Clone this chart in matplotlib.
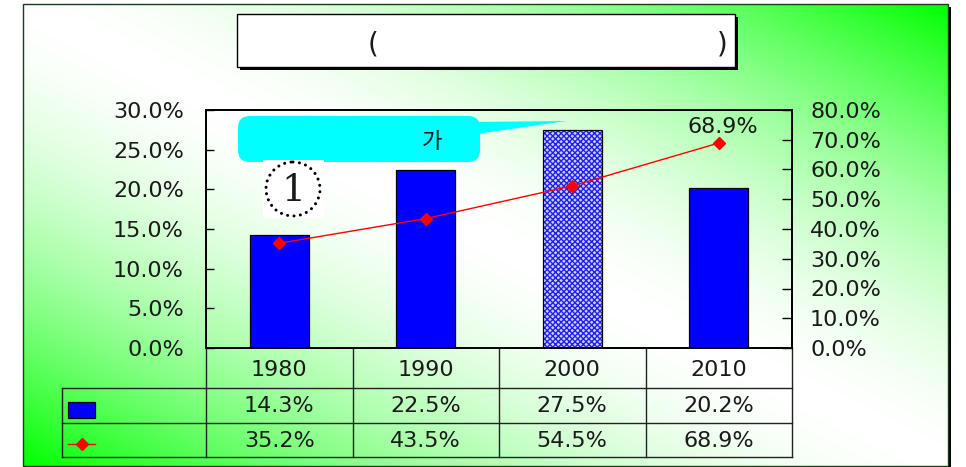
import numpy as np
import matplotlib
matplotlib.use("Agg")
import matplotlib.pyplot as plt
from matplotlib.patches import Rectangle, FancyBboxPatch, Polygon, Circle
from matplotlib import transforms
from matplotlib.ticker import FuncFormatter

# ---------------- data ----------------
years = ["1980", "1990", "2000", "2010"]
bar_values = [14.3, 22.5, 27.5, 20.2]
line_values = [35.2, 43.5, 54.5, 68.9]
left_ticks = [0, 5, 10, 15, 20, 25, 30]
right_ticks = [0, 10, 20, 30, 40, 50, 60, 70, 80]
title_left = "("
title_right = ")"
callout_text = "가"
circle_text = "1"

plt.rcParams['font.family'] = ['DejaVu Sans', 'Noto Sans CJK KR']
plt.rcParams['hatch.linewidth'] = 1.0
FS = 16
TC = '#1a1a1a'

W, H = 966, 467
fig = plt.figure(figsize=(W / 100, H / 100), dpi=100)
fig.patch.set_facecolor("white")

# ---------------- background (pixel coordinates) ----------------
bg = fig.add_axes([0, 0, 1, 1])
bg.set_zorder(0)
bg.axis('off')
FX0, FY0, FX1, FY1 = 23, 4, 948, 466
nx, ny = FX1 - FX0, FY1 - FY0
u = np.linspace(0, 1, nx)[None, :]
v = np.linspace(0, 1, ny)[:, None]
t = np.abs(u - v) ** 1.7
white = np.array([1.0, 1.0, 1.0])
green = np.array([0.0, 1.0, 0.0])
img = white * (1 - t[..., None]) + green * t[..., None]
bg.add_patch(Rectangle((FX0 + 3, FY0 + 3), nx, ny, fc='black', ec='none', zorder=0))
bg.imshow(img, extent=[FX0, FX1, FY1, FY0], aspect='auto', interpolation='bilinear', zorder=1)
bg.add_patch(Rectangle((FX0, FY0), nx, ny, fill=False, ec='#1a3a1a', lw=1, zorder=2))
bg.set_xlim(0, W)
bg.set_ylim(H, 0)

# ---------------- main axes ----------------
AX_L, AX_R, AX_T, AX_B = 206, 792, 110, 348
ax = fig.add_axes([AX_L / W, 1 - AX_B / H, (AX_R - AX_L) / W, (AX_B - AX_T) / H])
ax.set_zorder(1)
ax.set_facecolor('none')
x = np.arange(len(years))
faces = ['#0000ff', '#0000ff', '#d0d0ff', '#0000ff']
bars = ax.bar(x, bar_values, width=0.4, color=faces, edgecolor='#2020f0', linewidth=0, zorder=2)
bars[2].set_hatch('xxxxxx')
ax.bar(x, bar_values, width=0.4, fill=False, edgecolor='black', linewidth=0.9, zorder=3)
ax.set_xlim(-0.5, len(years) - 0.5)
ax.set_xticks([])
ax.set_ylim(0, 30)
ax.set_yticks(left_ticks)
ax.yaxis.set_major_formatter(FuncFormatter(lambda val, p: f"{val:.1f}%"))
ax.tick_params(axis='y', direction='in', length=6, width=1, pad=16, labelsize=FS, labelcolor=TC)
for s in ax.spines.values():
    s.set_linewidth(1.3)
    s.set_color('black')

ax2 = ax.twinx()
ax2.set_zorder(2)
ax2.plot(x, line_values, color='red', lw=1, marker='D', ms=6, mfc='red', mec='red', zorder=4)
ax2.set_ylim(0, 80)
ax2.set_yticks(right_ticks)
ax2.yaxis.set_major_formatter(FuncFormatter(lambda val, p: f"{val:.1f}%"))
ax2.tick_params(axis='y', direction='in', length=7, width=1, pad=13, labelsize=FS, labelcolor=TC)
for s in ax2.spines.values():
    s.set_linewidth(1.3)
    s.set_color('black')
ax2.annotate(f"{line_values[-1]:.1f}%", (x[-1], line_values[-1]), xytext=(3, 11.5),
             textcoords='offset points', ha='center', va='center', fontsize=FS, color=TC)

# ---------------- data table ----------------
tr = transforms.blended_transform_factory(ax.transData, bg.transData)
ROW0, ROW1, ROW2, ROW3 = 348, 388, 423, 457
LEG_L = 62
lc = '#222222'
edges = np.arange(len(years) + 1) - 0.5
for e in edges:
    bg.plot([e, e], [ROW0, ROW3], transform=tr, color=lc, lw=1, zorder=3)
bg.plot([LEG_L, AX_R], [ROW1, ROW1], color=lc, lw=1, zorder=3)
bg.plot([LEG_L, AX_R], [ROW2, ROW2], color=lc, lw=1, zorder=3)
bg.plot([LEG_L, AX_R], [ROW3, ROW3], color=lc, lw=1, zorder=3)
bg.plot([LEG_L, LEG_L], [ROW1, ROW3], color=lc, lw=1, zorder=3)
for i, yr in enumerate(years):
    bg.text(i, (ROW0 + ROW1) / 2 + 2, yr, transform=tr, ha='center', va='center', fontsize=FS,
            color=TC, zorder=4)
    bg.text(i, (ROW1 + ROW2) / 2 + 1, f"{bar_values[i]:.1f}%", transform=tr, ha='center',
            va='center', fontsize=FS, color=TC, zorder=4)
    bg.text(i, (ROW2 + ROW3) / 2 + 1, f"{line_values[i]:.1f}%", transform=tr, ha='center',
            va='center', fontsize=FS, color=TC, zorder=4)
bg.add_patch(Rectangle((68, 402), 27, 16, fc='#0000ff', ec='black', lw=0.9, zorder=4))
bg.plot([68, 95], [444, 444], color='red', lw=1, zorder=4)
bg.plot([81.5], [444], marker='D', ms=6, color='red', zorder=5)

# ---------------- overlay: title box, callout, circled number ----------------
ov = fig.add_axes([0, 0, 1, 1])
ov.set_zorder(5)
ov.set_facecolor('none')
ov.axis('off')
ov.set_xlim(0, W)
ov.set_ylim(H, 0)

ov.add_patch(Rectangle((240, 17), 498, 53, fc='black', ec='none'))
ov.add_patch(Rectangle((237, 14), 498, 53, fc='white', ec='black', lw=1))
ov.text(373, 44, title_left, ha='center', va='center', fontsize=20, color=TC)
ov.text(722, 44, title_right, ha='center', va='center', fontsize=20, color=TC)

ov.add_patch(FancyBboxPatch((238, 116), 242, 46, boxstyle='round,pad=0,rounding_size=12',
                            fc='#00ffff', ec='none'))
ov.add_patch(Polygon([(470, 122), (566, 121), (470, 135)], closed=True, fc='#00ffff', ec='none'))
ov.text(432, 141, callout_text, ha='center', va='center', fontsize=16, color=TC,
        family=['Noto Sans CJK KR', 'DejaVu Sans'])

ov.add_patch(Rectangle((263, 160), 61, 58, fc='white', ec='none'))
ov.add_patch(Circle((293, 189), 27, fill=False, ec='black', lw=2.2,
                    linestyle=(0, (0.01, 2.1)), capstyle='round'))
ov.text(293, 191, circle_text, ha='center', va='center', fontsize=27, family='DejaVu Serif',
        color=TC)

fig.savefig("out.png", dpi=100, facecolor=fig.get_facecolor())
